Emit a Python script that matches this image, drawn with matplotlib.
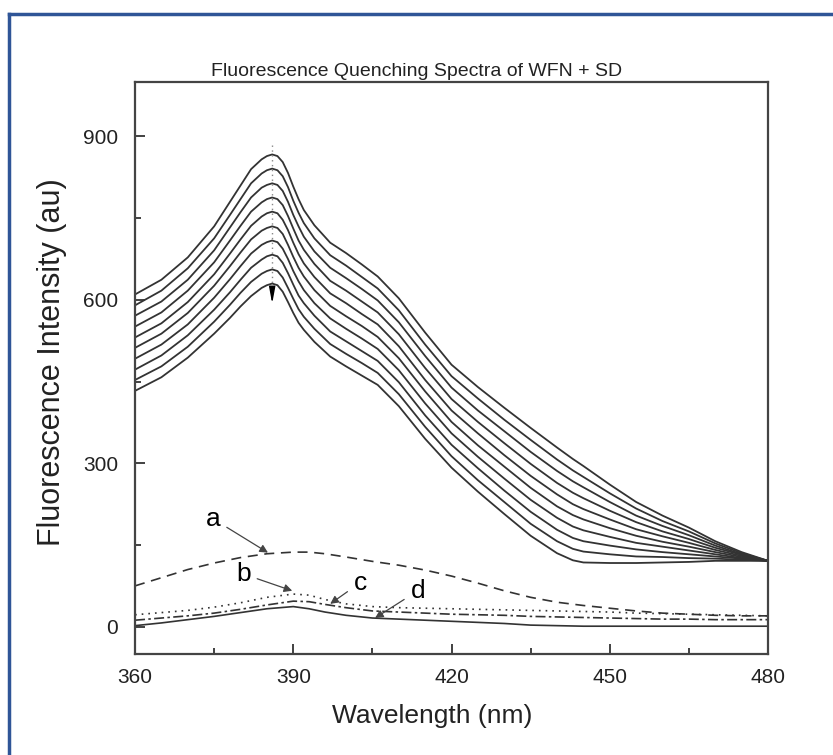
import matplotlib
matplotlib.use("Agg")
import matplotlib.pyplot as plt
from matplotlib.lines import Line2D
from matplotlib.ticker import MultipleLocator

plt.rcParams['font.family'] = ['Liberation Sans', 'DejaVu Sans']

# wavelengths for the quenching series (nm)
wl = [360, 365, 370, 375, 378, 380, 382, 384, 385, 386, 387, 388, 389, 390, 391,
      392, 394, 397, 400, 403, 406, 410, 415, 420, 425, 430, 435, 440, 443, 445,
      450, 455, 460, 465, 470, 475, 480]

# WFN + SD, from highest (no SD) to lowest
f0 = [610, 637, 678, 735, 780, 810, 840, 858, 864, 867, 864, 853, 833, 808, 785,
      765, 737, 705, 686, 665, 643, 603, 540, 481, 440, 402, 365, 329, 308, 295,
      261, 229, 204, 182, 157, 137, 121]
f1 = [590, 617, 658, 713, 756, 785, 814, 832, 838, 841, 838, 827, 807, 782, 760,
      741, 713, 682, 663, 642, 621, 581, 518, 460, 419, 380, 343, 307, 287, 275,
      245, 217, 194, 175, 153, 135, 121]
f2 = [571, 597, 637, 691, 733, 761, 788, 806, 811, 814, 811, 800, 780, 756, 735,
      716, 689, 659, 640, 620, 599, 559, 497, 439, 397, 359, 321, 286, 267, 256,
      229, 204, 185, 168, 149, 133, 121]
f3 = [551, 577, 617, 669, 709, 736, 762, 779, 785, 788, 785, 774, 754, 731, 709,
      692, 666, 635, 617, 597, 577, 537, 475, 418, 376, 337, 299, 264, 246, 236,
      213, 192, 175, 161, 145, 132, 121]
f4 = [531, 557, 596, 647, 685, 711, 736, 753, 759, 762, 759, 747, 728, 705, 684,
      667, 642, 612, 594, 574, 555, 515, 453, 397, 355, 315, 277, 243, 225, 216,
      197, 179, 166, 154, 141, 130, 121]
f5 = [512, 538, 576, 626, 662, 687, 711, 727, 732, 735, 732, 721, 701, 679, 659,
      643, 618, 589, 570, 552, 532, 493, 432, 376, 333, 294, 255, 221, 205, 197,
      181, 167, 156, 147, 137, 128, 121]
f6 = [492, 518, 555, 604, 638, 662, 685, 701, 706, 709, 706, 694, 675, 653, 634,
      618, 594, 566, 547, 529, 510, 471, 410, 355, 312, 272, 233, 200, 184, 177,
      165, 154, 147, 140, 133, 126, 121]
f7 = [472, 498, 535, 582, 614, 637, 659, 674, 680, 683, 680, 668, 649, 628, 608,
      594, 571, 542, 524, 506, 488, 449, 388, 334, 291, 250, 211, 178, 163, 157,
      149, 142, 137, 133, 129, 125, 121]
f8 = [453, 478, 514, 560, 591, 613, 633, 648, 653, 656, 653, 641, 622, 602, 583,
      569, 547, 519, 501, 484, 466, 427, 367, 313, 269, 229, 189, 157, 143, 138,
      133, 129, 128, 126, 125, 123, 121]
f9 = [433, 458, 494, 538, 567, 588, 607, 622, 627, 630, 627, 615, 596, 576, 558,
      545, 523, 496, 478, 461, 444, 405, 345, 292, 248, 207, 167, 135, 122, 118,
      117, 117, 118, 119, 121, 121, 121]
series = [f0, f1, f2, f3, f4, f5, f6, f7, f8, f9]

# single components a-d
wl2 = [360, 365, 370, 375, 380, 385, 390, 393, 396, 400, 405, 410, 415, 420,
       425, 430, 435, 440, 445, 450, 455, 460, 465, 470, 475, 480]
a = [75, 90, 105, 117, 127, 134, 137, 137, 134, 128, 120, 113, 104, 93,
     80, 66, 54, 45, 39, 34, 29, 25, 23, 21, 20, 20]
b = [22, 26, 30, 36, 44, 54, 60, 58, 50, 42, 37, 35, 34, 33,
     32, 31, 30, 29, 28, 27, 25, 24, 23, 22, 21, 20]
c = [12, 16, 20, 25, 32, 40, 47, 46, 41, 35, 29, 27, 25, 23,
     22, 21, 19, 18, 17, 16, 15, 14, 14, 13, 13, 13]
d = [2, 7, 13, 19, 26, 33, 37, 33, 27, 21, 16, 14, 12, 10,
     8, 6, 3, 2, 1, 1, 1, 1, 1, 1, 1, 1]

labels = ['a', 'b', 'c', 'd']
label_pos = [(374.8, 198), (380.5, 97), (402.7, 81), (413.6, 66)]
arrow_tip = [(385.2, 136), (389.8, 66), (397, 42), (405.5, 16)]

fig = plt.figure(figsize=(8.33, 7.55), dpi=100)
ax = fig.add_axes([0.1621, 0.1338, 0.7599, 0.7576])

line_col = '#333333'
for s in series:
    ax.plot(wl, s, color=line_col, lw=1.3, solid_joinstyle='round')

ax.plot(wl2, a, color=line_col, lw=1.2, linestyle=(0, (6, 4)))
ax.plot(wl2, b, color=line_col, lw=1.2, linestyle=(0, (1, 3)))
ax.plot(wl2, c, color=line_col, lw=1.2, linestyle=(0, (6, 2, 1.5, 2)))
ax.plot(wl2, d, color=line_col, lw=1.2)

# peak marker: dotted guide with arrow down
ax.plot([386, 386], [885, 612], color='#888888', lw=1, linestyle=(0, (1, 2.5)))
ax.annotate('', xy=(386, 588), xytext=(386, 618),
            arrowprops=dict(arrowstyle='-|>,head_length=0.7,head_width=0.13',
                            color='black', lw=1, mutation_scale=14))

for lab, pos, tip in zip(labels, label_pos, arrow_tip):
    ax.annotate(lab, xy=tip, xytext=pos, ha='center', va='center', fontsize=19,
                arrowprops=dict(arrowstyle='-|>', color='#444444', lw=0.9,
                                mutation_scale=12, shrinkA=3, shrinkB=0))

ax.set_xlim(360, 480)
ax.set_ylim(-50, 1000)
ax.xaxis.set_major_locator(MultipleLocator(30))
ax.xaxis.set_minor_locator(MultipleLocator(15))
ax.yaxis.set_major_locator(MultipleLocator(300))
ax.yaxis.set_minor_locator(MultipleLocator(150))
ax.tick_params(which='both', direction='in', top=False, right=False,
               colors='#333333', width=1.3, labelcolor='#222222')
ax.tick_params(which='major', length=7, labelsize=15)
ax.tick_params(axis='x', which='major', pad=10)
ax.tick_params(axis='y', which='major', pad=12)
ax.tick_params(which='minor', length=4)
for sp in ax.spines.values():
    sp.set_linewidth(1.6)
    sp.set_color('#444444')

fig.text(417 / 833, 1 - 72 / 755, 'Fluorescence Quenching Spectra of WFN + SD',
         fontsize=14, ha='center', va='center', color='#222222')
ax.set_xlabel('Wavelength (nm)', fontsize=19, color='#222222')
ax.xaxis.set_label_coords(0.469, -0.088)
ax.set_ylabel('Fluorescence Intensity (au)', fontsize=22, color='#222222')
ax.yaxis.set_label_coords(-0.108, 0.51)

# blue frame (top and left edges)
blue = '#2f5597'
fig.add_artist(Line2D([9 / 833, 1], [1 - 14 / 755, 1 - 14 / 755],
                      color=blue, lw=2.5, transform=fig.transFigure))
fig.add_artist(Line2D([9 / 833, 9 / 833], [0, 1 - 14 / 755],
                      color=blue, lw=2.5, transform=fig.transFigure))

fig.savefig('out.png', dpi=100)
